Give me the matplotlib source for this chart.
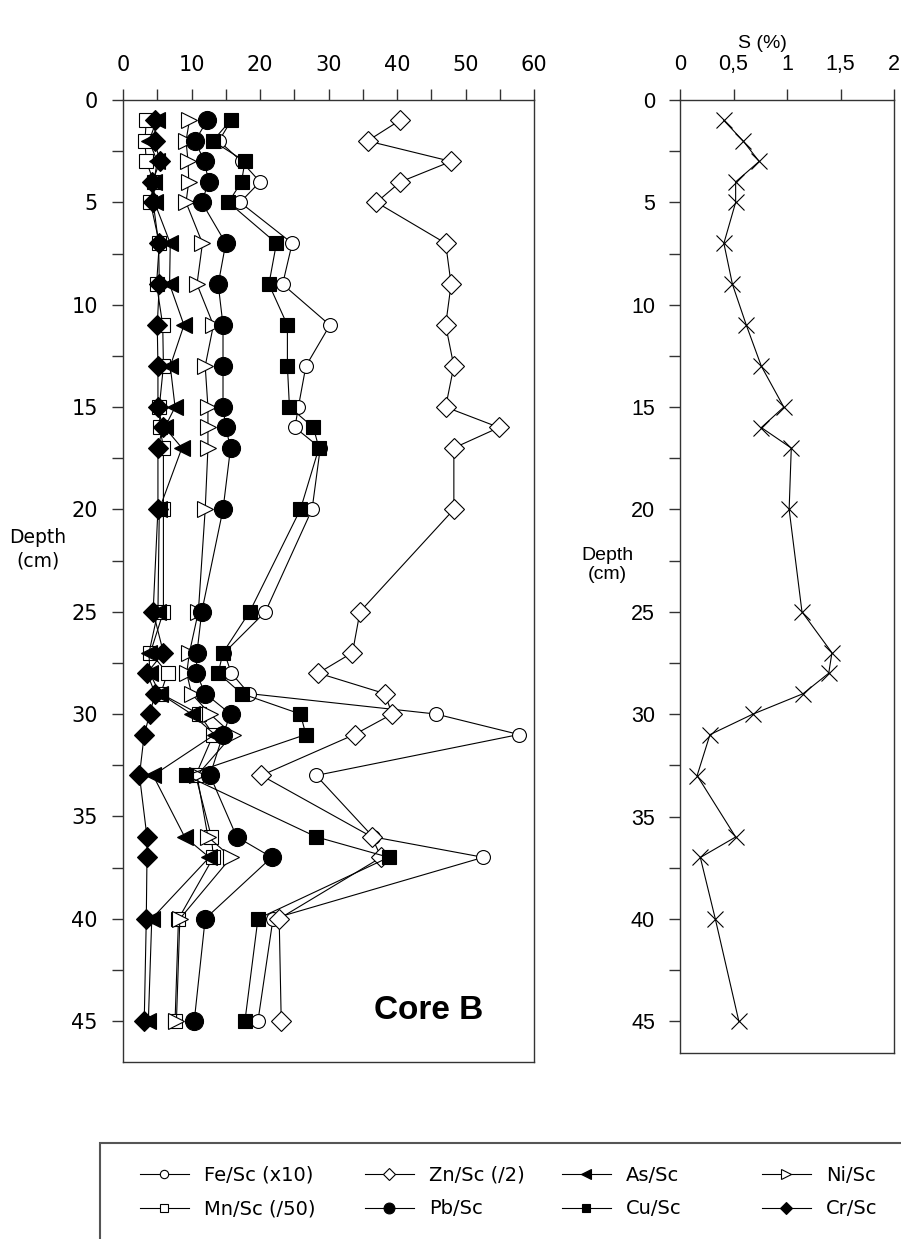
import matplotlib
matplotlib.use("Agg")
import matplotlib.pyplot as plt
from matplotlib.lines import Line2D
from matplotlib.patches import Rectangle
from matplotlib.ticker import MultipleLocator, FixedLocator

# profondeurs des échantillons (cm)
depth = [1, 2, 3, 4, 5, 7, 9, 11, 13, 15, 16, 17, 20, 25, 27, 28, 29, 30, 31, 33, 36, 37, 40, 45]

# rapports normalisés au Sc
fe = [15.8, 14.0, 17.3, 20.0, 17.1, 24.7, 23.3, 30.2, 26.7, 25.6, 25.1, 28.8,
      27.6, 20.8, 14.8, 15.8, 18.4, 45.7, 57.8, 28.2, 36.5, 52.6, 21.9, 19.7]
zn = [40.4, 35.7, 47.9, 40.5, 37.0, 47.1, 47.9, 47.1, 48.3, 47.1, 54.9, 48.3,
      48.3, 34.6, 33.5, 28.5, 38.2, 39.3, 33.8, 20.2, 36.3, 37.7, 22.8, 23.1]
as_ = [4.9, 3.8, 5.0, 4.5, 4.6, 6.9, 6.8, 8.9, 6.9, 7.6, 6.1, 8.6,
       5.3, 5.1, 3.8, 3.9, 5.4, 10.0, 13.4, 4.4, 9.0, 12.6, 4.2, 3.7]
ni = [9.7, 9.2, 9.5, 9.6, 9.2, 11.6, 10.8, 13.2, 12.0, 12.4, 12.4, 12.4,
      12.0, 11.0, 9.7, 9.3, 10.0, 12.7, 16.0, 10.8, 12.4, 15.8, 8.3, 7.8]
mn = [3.4, 3.2, 3.4, 4.5, 4.0, 5.3, 4.9, 5.8, 5.9, 5.3, 5.4, 5.9,
      5.9, 5.9, 4.0, 6.5, 5.5, 11.1, 13.2, 10.6, 12.9, 13.2, 8.1, 7.6]
pb = [12.3, 10.5, 11.9, 12.5, 11.5, 15.0, 13.9, 14.6, 14.6, 14.6, 15.0, 15.7,
      14.6, 11.5, 10.8, 10.7, 12.0, 15.7, 14.6, 12.7, 16.6, 21.7, 12.0, 10.4]
cu = [15.7, 13.1, 17.8, 17.3, 15.4, 22.4, 21.3, 24.0, 24.0, 24.3, 27.8, 28.6,
      25.9, 18.5, 14.6, 13.9, 17.3, 25.9, 26.7, 9.2, 28.2, 38.8, 19.7, 17.8]
cr = [4.7, 4.6, 5.4, 4.3, 4.4, 5.2, 5.3, 5.0, 5.1, 5.1, 5.8, 5.1,
      5.1, 4.4, 5.9, 3.5, 4.7, 3.9, 3.1, 2.4, 3.5, 3.5, 3.4, 3.1]

# soufre total (%)
s_pct = [0.41, 0.59, 0.74, 0.52, 0.52, 0.41, 0.49, 0.62, 0.76, 0.97, 0.76, 1.04,
         1.02, 1.14, 1.42, 1.39, 1.15, 0.68, 0.28, 0.16, 0.52, 0.19, 0.33, 0.55]

W, H = 901, 1239
fig = plt.figure(figsize=(W / 100, H / 100), dpi=100)

def px_axes(x0, y0, x1, y1):
    return fig.add_axes([x0 / W, 1 - y1 / H, (x1 - x0) / W, (y1 - y0) / H])

ax1 = px_axes(123, 100, 534, 1062)
ax2 = px_axes(680, 100, 894, 1053)

lw = 0.8
series = [
    ("Fe/Sc (x10)", fe, dict(marker="o", mfc="white", ms=10)),
    ("Zn/Sc (/2)", zn, dict(marker="D", mfc="white", ms=10.5)),
    ("Mn/Sc (/50)", mn, dict(marker="s", mfc="white", ms=10)),
    ("Ni/Sc", ni, dict(marker=">", mfc="white", ms=11)),
    ("Pb/Sc", pb, dict(marker="o", mfc="black", ms=13)),
    ("As/Sc", as_, dict(marker="<", mfc="black", ms=11)),
    ("Cu/Sc", cu, dict(marker="s", mfc="black", ms=10.5)),
    ("Cr/Sc", cr, dict(marker="D", mfc="black", ms=10.5)),
]
handles = {}
for label, vals, style in series:
    line, = ax1.plot(vals, depth, color="black", lw=lw, mec="black", mew=0.8,
                     label=label, **style)
    handles[label] = line

ax1.set_xlim(0, 60)
ax1.set_ylim(47.0, 0)
ax1.xaxis.tick_top()
ax1.xaxis.set_major_locator(MultipleLocator(10))
ax1.xaxis.set_minor_locator(MultipleLocator(5))
ax1.yaxis.set_major_locator(MultipleLocator(5))
ax1.yaxis.set_minor_locator(MultipleLocator(2.5))
for ax in (ax1, ax2):
    ax.tick_params(which="both", direction="out", length=8, width=1, color="#333333")
    ax.tick_params(axis="x", which="both", top=True, bottom=False, pad=10)
    ax.tick_params(axis="y", which="both", pad=10)
    for sp in ax.spines.values():
        sp.set_linewidth(1.0)
        sp.set_color("#333333")
ax1.tick_params(labelsize=15)
for t in ax1.get_xticklabels() + ax1.get_yticklabels():
    t.set_family("DejaVu Sans")

ax1.text(44.6, 44.5, "Core B", fontsize=24, fontweight="bold",
         family="Liberation Sans", ha="center", va="center")

# profil du soufre
ax2.plot(s_pct, depth, color="black", lw=lw, marker="x", ms=11, mew=0.8)
ax2.set_xlim(0, 2)
ax2.set_ylim(46.55, 0)
ax2.xaxis.tick_top()
ax2.xaxis.set_major_locator(FixedLocator([0, 0.5, 1, 1.5, 2]))
ax2.set_xticklabels(["0", "0,5", "1", "1,5", "2"])
ax2.yaxis.set_major_locator(MultipleLocator(5))
ax2.yaxis.set_minor_locator(MultipleLocator(2.5))
ax2.tick_params(labelsize=15.5)
for t in ax2.get_xticklabels() + ax2.get_yticklabels():
    t.set_family("Liberation Sans")

fig.text(762 / W, 1 - 44 / H, "S (%)", fontsize=14, family="Liberation Sans",
         ha="center", va="center")
fig.text(38 / W, 1 - 549 / H, "Depth\n(cm)", fontsize=13.5, family="DejaVu Sans",
         ha="center", va="center", linespacing=1.3)
fig.text(607 / W, 1 - 565 / H, "Depth\n(cm)", fontsize=14, family="Liberation Sans",
         ha="center", va="center", linespacing=1.2)

# légende encadrée en bas : une légende par colonne
fig.patches.append(Rectangle((100 / W, -0.05), 1.0, 1 - 1143 / H + 0.05,
                             transform=fig.transFigure, fill=False,
                             ec="#555555", lw=1.5))
columns = [("Fe/Sc (x10)", "Mn/Sc (/50)"), ("Zn/Sc (/2)", "Pb/Sc"),
           ("As/Sc", "Cu/Sc"), ("Ni/Sc", "Cr/Sc")]
col_x = [136, 361, 558, 758]
for x0, keys in zip(col_x, columns):
    leg_handles = []
    for key in keys:
        h = handles[key]
        leg_handles.append(Line2D([], [], color="black", lw=lw, marker=h.get_marker(),
                                  mfc=h.get_markerfacecolor(), mec="black", mew=0.8,
                                  ms=h.get_markersize() * 0.6))
    fig.legend(leg_handles, list(keys), loc="upper left",
               bbox_to_anchor=(x0 / W, 1 - 1162 / H), frameon=False,
               handlelength=2.5, handletextpad=0.8, labelspacing=0.75,
               borderaxespad=0, borderpad=0.2,
               prop=dict(family="DejaVu Sans", size=14))

fig.savefig("out.png", dpi=100)
